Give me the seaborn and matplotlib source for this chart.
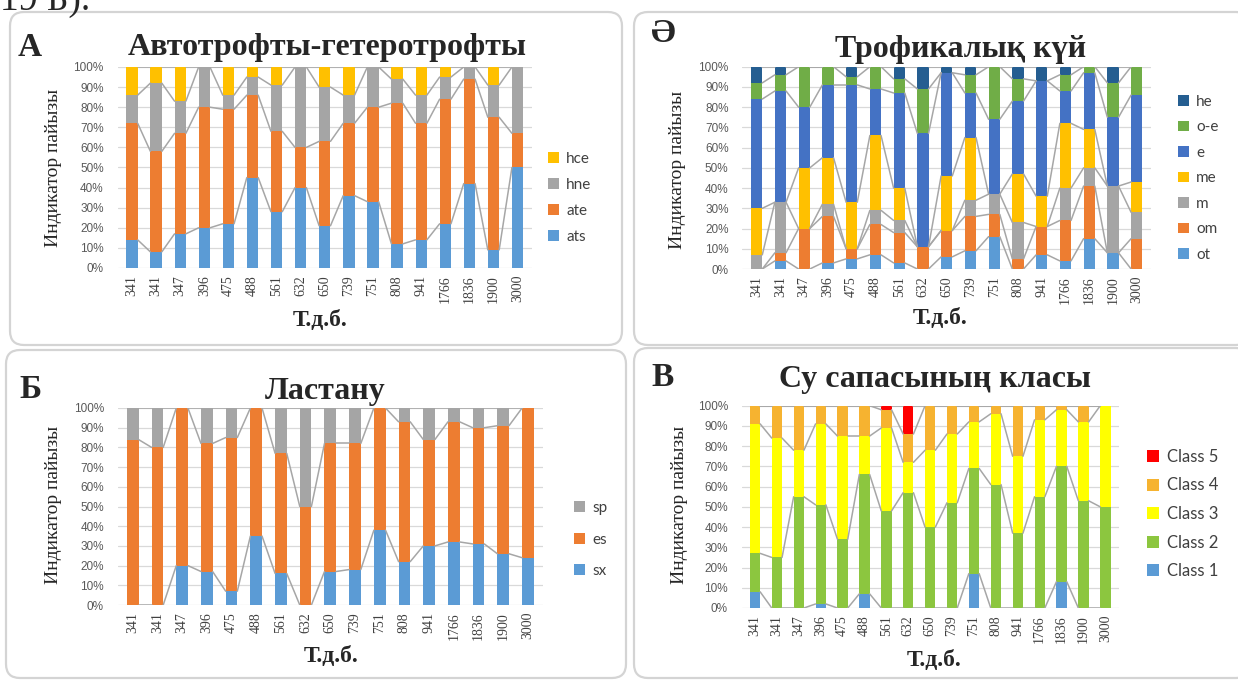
import numpy as np
import matplotlib
matplotlib.use("Agg")
import matplotlib.pyplot as plt
import seaborn as sns
from matplotlib.patches import FancyBboxPatch, Patch
from matplotlib.ticker import PercentFormatter, MultipleLocator
from matplotlib.transforms import IdentityTransform

# ---------------- data ----------------
depths = ["341", "341", "347", "396", "475", "488", "561", "632", "650",
          "739", "751", "808", "941", "1766", "1836", "1900", "3000"]

# A: Автотрофты-гетеротрофты (%)
a_ats = [14, 8, 17, 20, 22, 45, 28, 40, 21, 36, 33, 12, 14, 22, 42, 9, 50]
a_ate = [58, 50, 50, 60, 57, 41, 40, 20, 42, 36, 47, 70, 58, 62, 52, 66, 17]
a_hne = [14, 34, 16, 20, 7, 9, 23, 40, 27, 14, 20, 12, 14, 11, 6, 16, 33]
a_hce = [14, 8, 17, 0, 14, 5, 9, 0, 10, 14, 0, 6, 14, 5, 0, 9, 0]

# Ə: Трофикалық күй (%)
t_ot = [0, 4, 0, 3, 5, 7, 3, 0, 6, 9, 16, 0, 7, 4, 15, 8, 0]
t_om = [0, 4, 20, 23, 5, 15, 15, 11, 13, 17, 11, 5, 14, 20, 26, 0, 15]
t_m = [7, 25, 0, 6, 0, 7, 6, 0, 0, 8, 10, 18, 0, 16, 9, 33, 13]
t_me = [23, 0, 30, 23, 23, 37, 16, 0, 27, 31, 0, 24, 15, 32, 19, 0, 15]
t_e = [54, 55, 30, 36, 58, 23, 47, 56, 51, 22, 37, 36, 57, 16, 28, 34, 43]
t_oe = [8, 8, 20, 9, 4, 11, 7, 22, 0, 9, 26, 11, 0, 8, 3, 17, 14]
t_he = [8, 4, 0, 0, 5, 0, 6, 11, 3, 4, 0, 6, 7, 4, 0, 8, 0]

# Б: Ластану (%)
b_sx = [0, 0, 20, 17, 7, 35, 16, 0, 17, 18, 38, 22, 30, 32, 31, 26, 24]
b_es = [84, 80, 80, 65, 78, 65, 61, 50, 65, 64, 62, 71, 54, 61, 59, 65, 76]
b_sp = [16, 20, 0, 18, 15, 0, 23, 50, 18, 18, 0, 7, 16, 7, 10, 9, 0]

# В: Су сапасының класы (%)
c_1 = [8, 0, 0, 2, 0, 7, 0, 0, 0, 0, 17, 0, 0, 0, 13, 0, 0]
c_2 = [19, 25, 55, 49, 34, 59, 48, 57, 40, 52, 52, 61, 37, 55, 57, 53, 50]
c_3 = [64, 59, 23, 40, 51, 19, 41, 15, 38, 34, 23, 35, 38, 38, 28, 39, 50]
c_4 = [9, 16, 22, 9, 15, 15, 9, 14, 22, 14, 8, 4, 25, 7, 2, 8, 0]
c_5 = [0, 0, 0, 0, 0, 0, 2, 14, 0, 0, 0, 0, 0, 0, 0, 0, 0]

# ---------------- style ----------------
sns.set_theme(style="white")
plt.rcParams['font.family'] = ['Liberation Serif', 'DejaVu Serif']

W, H = 1238, 682
fig = plt.figure(figsize=(W / 100, H / 100), dpi=100)


def fx(px):
    return px / W


def fy(py):
    return 1 - py / H


def box(x0, y0, x1, y1):
    p = FancyBboxPatch((x0, H - y1), x1 - x0, y1 - y0,
                       boxstyle="round,pad=0,rounding_size=14",
                       transform=IdentityTransform(), facecolor="white",
                       edgecolor="#D4D4D4", linewidth=1.6, zorder=0)
    fig.add_artist(p)


GRAY_LINE = "#A6A6A6"
BW = 0.47


def panel(geom, series, names, colors, letter, letter_xy, title, title_xy,
          ylab_xy, xlab_xy, leg_xy, leg_fs, leg_sp):
    x0, dx, y100, y0 = geom
    lo, hi = -0.6, 16.6
    left = x0 + lo * dx
    ax = fig.add_axes([fx(left), fy(y0), (hi - lo) * dx / W, (y0 - y100) / H])
    n = len(depths)
    xs = np.arange(n)
    cum = np.cumsum(np.array(series, dtype=float), axis=0)
    for k in range(len(series) - 1, -1, -1):
        sns.barplot(x=xs, y=cum[k], color=colors[k], saturation=1, width=BW,
                    errorbar=None, linewidth=0, ax=ax, zorder=2)
    for k in range(len(series)):
        for i in range(n - 1):
            ax.plot([i + BW / 2, i + 1 - BW / 2], [cum[k][i], cum[k][i + 1]],
                    color=GRAY_LINE, lw=1.1, zorder=3)
    ax.set_xlim(lo, hi)
    ax.set_ylim(0, 100)
    ax.yaxis.set_major_locator(MultipleLocator(10))
    ax.yaxis.set_major_formatter(PercentFormatter(100, decimals=0))
    ax.set_xticks(xs)
    ax.set_xticklabels(depths, rotation=90, fontsize=10, color="#404040",
                       family="Liberation Serif")
    for t in ax.get_yticklabels():
        t.set_family("Liberation Sans")
        t.set_fontsize(8.5)
        t.set_color("#595959")
    ax.tick_params(axis="both", length=0)
    ax.tick_params(axis="y", pad=10)
    ax.tick_params(axis="x", pad=5)
    ax.set_xlabel("")
    ax.set_ylabel("")
    ax.yaxis.grid(True, color="#D9D9D9", lw=0.9)
    ax.xaxis.grid(False)
    ax.set_axisbelow(True)
    for s in ax.spines.values():
        s.set_visible(False)
    ax.patch.set_alpha(0)

    fig.text(fx(letter_xy[0]), fy(letter_xy[1]), letter, fontsize=24,
             fontweight="bold", ha="center", va="center")
    fig.text(fx(title_xy[0]), fy(title_xy[1]), title, fontsize=23,
             fontweight="bold", ha="center", va="center")
    fig.text(fx(ylab_xy[0]), fy(ylab_xy[1]), "Индикатор пайызы", fontsize=14,
             rotation=90, ha="center", va="center")
    fig.text(fx(xlab_xy[0]), fy(xlab_xy[1]), "Т.д.б.", fontsize=17,
             fontweight="bold", ha="center", va="center")

    handles = [Patch(facecolor=c, edgecolor="none") for c in colors][::-1]
    leg = ax.legend(handles, names[::-1], loc="upper left",
                    bbox_to_anchor=(fx(leg_xy[0]), fy(leg_xy[1])),
                    bbox_transform=fig.transFigure, frameon=False,
                    handlelength=0.7, handleheight=0.7, handletextpad=0.5,
                    labelspacing=leg_sp, borderpad=0, borderaxespad=0,
                    prop={"family": "Lato", "size": leg_fs})
    for t in leg.get_texts():
        t.set_color("#404040")
    return ax


# panel boxes
box(10, 12, 622, 345)
box(634, 12, 1250, 345)
box(6, 350, 626, 678)
box(634, 348, 1250, 678)

# caption fragment at the top
fig.text(0.0, fy(10), "19 Б).", fontsize=27, ha="left", va="baseline")

c_blue, c_orange, c_gray, c_yellow = "#5B9BD5", "#ED7D31", "#A5A5A5", "#FFC000"

panel((132, 24.1, 67, 268),
      [a_ats, a_ate, a_hne, a_hce], ["ats", "ate", "hne", "hce"],
      [c_blue, c_orange, c_gray, c_yellow],
      "А", (30, 47), "Автотрофты-гетеротрофты", (327, 47),
      (54, 168), (320, 321), (548, 152), 11, 0.78)

panel((756.7, 23.75, 66.7, 269),
      [t_ot, t_om, t_m, t_me, t_e, t_oe, t_he],
      ["ot", "om", "m", "me", "e", "o-e", "he"],
      [c_blue, c_orange, c_gray, c_yellow, "#4472C4", "#70AD47", "#255E91"],
      "Ə", (663, 34), "Трофикалық күй", (961, 49),
      (677, 170), (940, 319), (1178, 95), 11, 0.75)

panel((132.7, 24.7, 408, 605),
      [b_sx, b_es, b_sp], ["sx", "es", "sp"],
      [c_blue, c_orange, c_gray],
      "Б", (30, 389), "Ластану", (325, 391),
      (54, 505), (331, 657), (574, 501), 11, 1.15)

panel((755, 21.9, 405.7, 608),
      [c_1, c_2, c_3, c_4, c_5],
      ["Class 1", "Class 2", "Class 3", "Class 4", "Class 5"],
      [c_blue, "#8CC63F", "#FFFF00", "#F6B330", "#FF0000"],
      "В", (663, 378), "Су сапасының класы", (935, 380),
      (680, 505), (934, 661), (1147, 449), 12, 0.75)

fig.savefig("out.png", dpi=100)
